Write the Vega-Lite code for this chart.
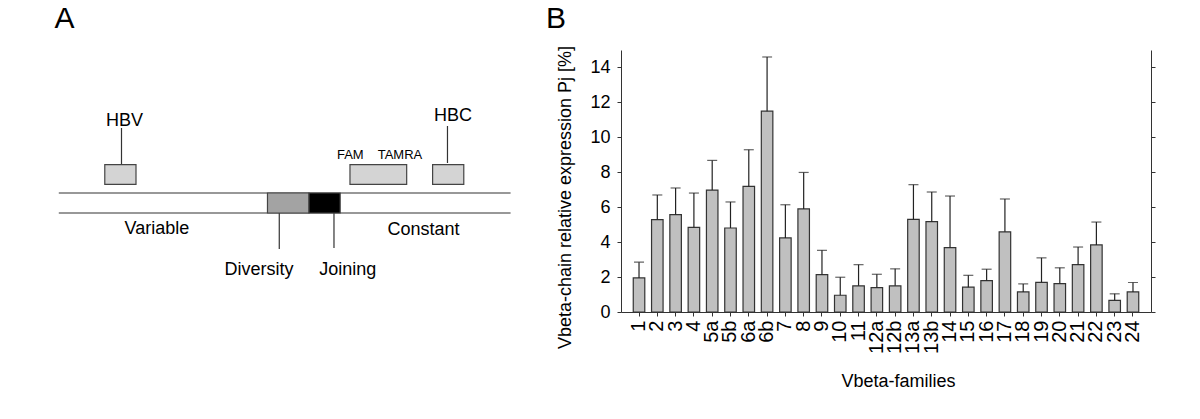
{
  "$schema": "https://vega.github.io/schema/vega-lite/v6.json",
  "background": "white",
  "padding": {"left": 0, "top": 3, "right": 0, "bottom": 0},
  "bounds": "flush",
  "spacing": 20,
  "config": {"font": "Liberation Sans", "view": {"stroke": null}},
  "datasets": {
    "segments": [
      {"part": "strand top", "x": 0, "x2": 100, "y": 0, "y2": 0},
      {"part": "strand bottom", "x": 0, "x2": 100, "y": -1, "y2": -1},
      {"part": "HBV stem", "x": 13.88, "x2": 13.88, "y": 3.25, "y2": 1.415},
      {"part": "HBC stem", "x": 86.03, "x2": 86.03, "y": 3.35, "y2": 1.5},
      {"part": "Diversity stem", "x": 48.8, "x2": 48.8, "y": -1, "y2": -2.8},
      {"part": "Joining stem", "x": 60.91, "x2": 60.91, "y": -1, "y2": -2.75}
    ],
    "boxes": [
      {"name": "HBV", "kind": "probe", "x": 10.18, "x2": 17.09, "y": 0.43, "y2": 1.415},
      {"name": "FAM-TAMRA", "kind": "probe", "x": 64.45, "x2": 77.0, "y": 0.43, "y2": 1.415},
      {"name": "HBC", "kind": "probe", "x": 82.74, "x2": 89.64, "y": 0.43, "y2": 1.415},
      {"name": "Diversity", "kind": "diversity", "x": 46.19, "x2": 55.38, "y": -1, "y2": 0},
      {"name": "Joining", "kind": "joining", "x": 55.38, "x2": 62.28, "y": -1, "y2": 0}
    ],
    "labels": [
      {"label": "HBV", "x": 14.54, "y": 3.365},
      {"label": "HBC", "x": 87.25, "y": 3.58},
      {"label": "Variable", "x": 21.73, "y": -2.05},
      {"label": "Constant", "x": 80.72, "y": -2.085},
      {"label": "Diversity", "x": 44.31, "y": -4.085},
      {"label": "Joining", "x": 63.94, "y": -4.085}
    ],
    "smalllabels": [
      {"label": "FAM", "x": 64.52, "y": 1.68},
      {"label": "TAMRA", "x": 75.52, "y": 1.68}
    ],
    "panels": [
      {"label": "A", "x": -0.93, "y": 9.465},
      {"label": "B", "x": 107.84, "y": 9.465}
    ],
    "bars": [
      {"family": "1", "value": 1.95, "upper": 2.85},
      {"family": "2", "value": 5.29, "upper": 6.70},
      {"family": "3", "value": 5.57, "upper": 7.10},
      {"family": "4", "value": 4.85, "upper": 6.81},
      {"family": "5a", "value": 6.98, "upper": 8.68},
      {"family": "5b", "value": 4.81, "upper": 6.30},
      {"family": "6a", "value": 7.19, "upper": 9.29},
      {"family": "6b", "value": 11.50, "upper": 14.60},
      {"family": "7", "value": 4.24, "upper": 6.14},
      {"family": "8", "value": 5.90, "upper": 7.99},
      {"family": "9", "value": 2.14, "upper": 3.53},
      {"family": "10", "value": 0.96, "upper": 1.99},
      {"family": "11", "value": 1.50, "upper": 2.71},
      {"family": "12a", "value": 1.40, "upper": 2.16},
      {"family": "12b", "value": 1.50, "upper": 2.47},
      {"family": "13a", "value": 5.30, "upper": 7.29},
      {"family": "13b", "value": 5.17, "upper": 6.87},
      {"family": "14", "value": 3.69, "upper": 6.64},
      {"family": "15", "value": 1.42, "upper": 2.10},
      {"family": "16", "value": 1.80, "upper": 2.45},
      {"family": "17", "value": 4.59, "upper": 6.47},
      {"family": "18", "value": 1.15, "upper": 1.61},
      {"family": "19", "value": 1.70, "upper": 3.10},
      {"family": "20", "value": 1.63, "upper": 2.53},
      {"family": "21", "value": 2.71, "upper": 3.72},
      {"family": "22", "value": 3.84, "upper": 5.15},
      {"family": "23", "value": 0.67, "upper": 1.04},
      {"family": "24", "value": 1.15, "upper": 1.69}
    ]
  },
  "hconcat": [
    {
      "width": 600,
      "height": 262,
      "view": {"stroke": "transparent"},
      "encoding": {
        "x": {"field": "x", "type": "quantitative", "scale": {"domain": [-12.79, 120.01], "nice": false, "zero": false}, "axis": null},
        "y": {"field": "y", "type": "quantitative", "scale": {"domain": [-5.95, 7.15], "nice": false, "zero": false}, "axis": null}
      },
      "layer": [
        {
          "data": {"name": "segments"},
          "mark": {"type": "rule", "color": "#333333", "strokeWidth": 1.2},
          "encoding": {"x2": {"field": "x2"}, "y2": {"field": "y2"}}
        },
        {
          "data": {"name": "boxes"},
          "mark": {"type": "rect", "stroke": "#444444", "strokeWidth": 1.2},
          "encoding": {
            "x2": {"field": "x2"},
            "y2": {"field": "y2"},
            "fill": {"field": "kind", "type": "nominal", "scale": {"domain": ["probe", "diversity", "joining"], "range": ["#d4d4d4", "#a3a3a3", "#000000"]}, "legend": null}
          }
        },
        {
          "data": {"name": "labels"},
          "mark": {"type": "text", "fontSize": 18, "align": "center", "baseline": "alphabetic", "color": "#000000"},
          "encoding": {"text": {"field": "label"}}
        },
        {
          "data": {"name": "smalllabels"},
          "mark": {"type": "text", "fontSize": 13, "align": "center", "baseline": "alphabetic", "color": "#000000"},
          "encoding": {"text": {"field": "label"}}
        },
        {
          "data": {"name": "panels"},
          "mark": {"type": "text", "fontSize": 30, "align": "left", "baseline": "top", "color": "#000000"},
          "encoding": {"text": {"field": "label"}}
        }
      ]
    },
    {
      "width": 530,
      "height": 262,
      "data": {"name": "bars"},
      "encoding": {
        "x": {
          "field": "family", "type": "nominal", "sort": null,
          "scale": {"paddingInner": 0.37, "paddingOuter": 0.67},
          "axis": {
            "title": "Vbeta-families", "labelAngle": -90, "labelFontSize": 20, "labelColor": "#000000",
            "labelPadding": 4, "labelOverlap": false, "tickSize": 4, "tickColor": "#333333", "domainColor": "#333333",
            "titleFontSize": 18, "titleFontWeight": "normal", "titleColor": "#000000",
            "titleX": 277, "titleY": 74.5, "titleBaseline": "alphabetic", "titleAlign": "center", "titleAnchor": null
          }
        }
      },
      "layer": [
        {
          "mark": {"type": "bar", "fill": "#c0c0c0", "stroke": "#333333", "strokeWidth": 1.2},
          "encoding": {
            "y": {
              "field": "value", "type": "quantitative",
              "scale": {"domain": [0, 15], "nice": false},
              "axis": {
                "title": "Vbeta-chain relative expression Pj [%]", "values": [0, 2, 4, 6, 8, 10, 12, 14],
                "grid": false, "tickSize": 4, "labelFontSize": 18, "labelPadding": 7, "labelColor": "#000000",
                "domainColor": "#333333", "tickColor": "#333333",
                "titleFontSize": 18, "titleFontWeight": "normal", "titleColor": "#000000",
                "titleX": -51, "titleY": 147, "titleAngle": 270, "titleBaseline": "alphabetic", "titleAlign": "center", "titleAnchor": null
              }
            }
          }
        },
        {
          "mark": {"type": "rule", "color": "#222222", "strokeWidth": 1.2},
          "encoding": {
            "y": {
              "field": "value", "type": "quantitative",
              "axis": {"orient": "right", "labels": false, "title": null, "values": [0, 2, 4, 6, 8, 10, 12, 14], "grid": false, "tickSize": 4, "domainColor": "#333333", "tickColor": "#333333"}
            },
            "y2": {"field": "upper"}
          }
        },
        {
          "mark": {"type": "tick", "color": "#222222", "thickness": 1.2, "size": 10, "orient": "horizontal"},
          "encoding": {"y": {"field": "upper", "type": "quantitative", "axis": null}}
        }
      ],
      "resolve": {"axis": {"y": "independent"}}
    }
  ]
}
